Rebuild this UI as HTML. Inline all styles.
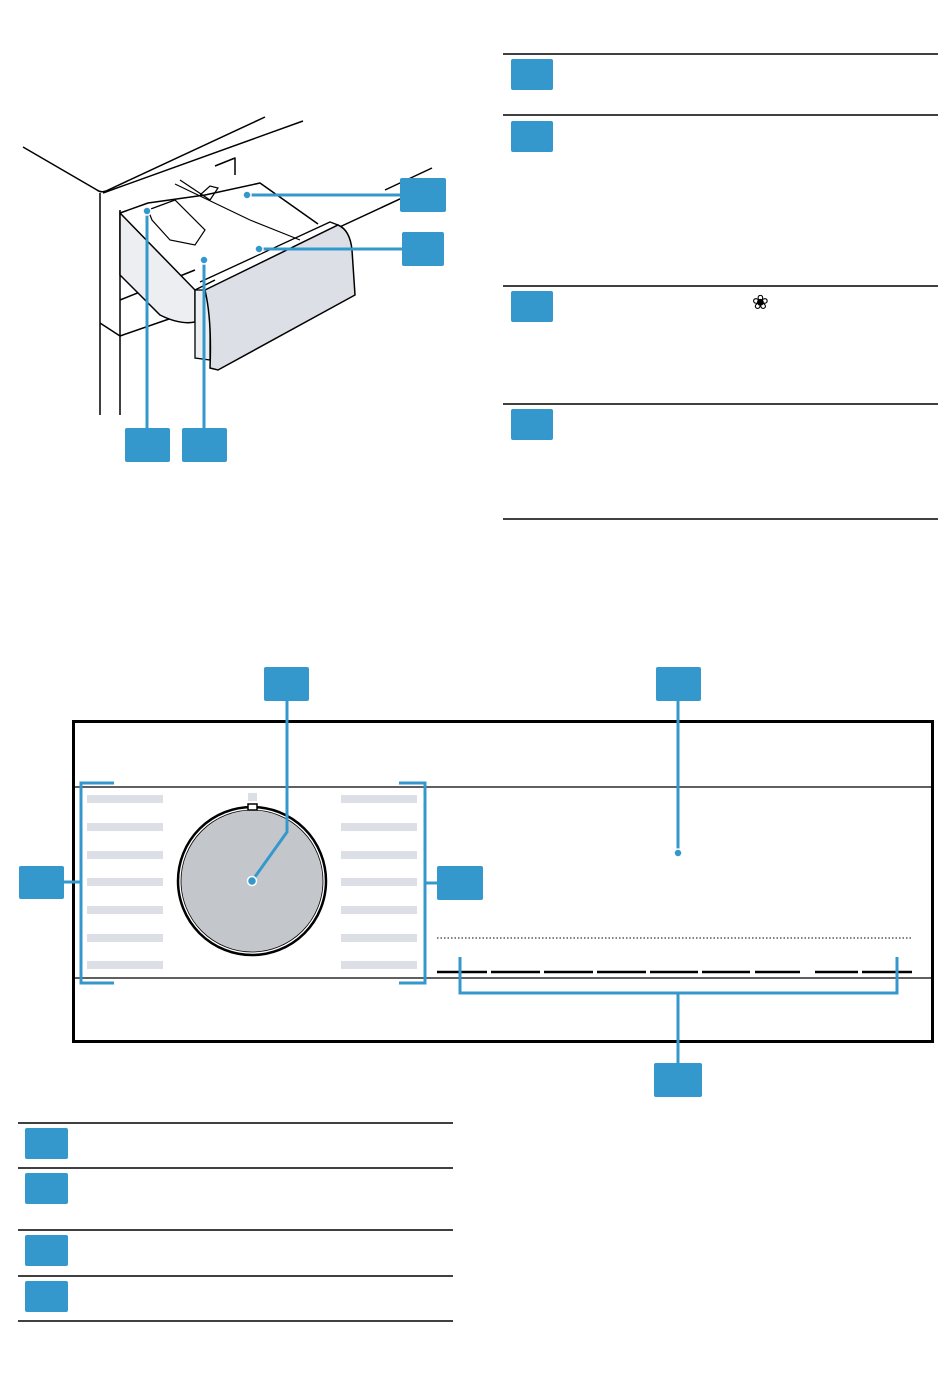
<!DOCTYPE html>
<html><head><style>body{margin:0;background:#fff}svg{display:block}</style></head><body>
<svg width="950" height="1392" viewBox="0 0 950 1392" xmlns="http://www.w3.org/2000/svg" font-family="Liberation Sans, sans-serif">
<g fill="#3598cc">
<rect x="511" y="59" width="42" height="31" rx="2"/>
<rect x="511" y="121" width="42" height="31" rx="2"/>
<rect x="511" y="291" width="42" height="31" rx="2"/>
<rect x="511" y="409" width="42" height="31" rx="2"/>
</g>
<g stroke="#000" stroke-width="1.5">
<line x1="503" y1="54" x2="938" y2="54"/><line x1="503" y1="115" x2="938" y2="115"/>
<line x1="503" y1="286" x2="938" y2="286"/><line x1="503" y1="404" x2="938" y2="404"/>
<line x1="503" y1="519" x2="938" y2="519"/>
<line x1="18" y1="1123" x2="453" y2="1123"/><line x1="18" y1="1168" x2="453" y2="1168"/>
<line x1="18" y1="1230" x2="453" y2="1230"/><line x1="18" y1="1276" x2="453" y2="1276"/>
<line x1="18" y1="1321" x2="453" y2="1321"/>
</g>
<text x="752" y="309" font-size="20">❀</text>
<g fill="#3598cc">
<rect x="25" y="1128" width="43" height="31" rx="2"/>
<rect x="25" y="1173" width="43" height="31" rx="2"/>
<rect x="25" y="1235" width="43" height="31" rx="2"/>
<rect x="25" y="1281" width="43" height="31" rx="2"/>
</g>
<!-- drawer illustration -->
<g stroke="#000" stroke-width="1.5" fill="none" stroke-linejoin="round">
<path d="M23 147 L97 190 Q101 193 106 191 L265 117"/>
<path d="M103 193 L303 121"/>
<line x1="100" y1="193" x2="100" y2="415"/>
<line x1="120" y1="210" x2="120" y2="415"/>
<path d="M100 323 L120 336 L195 310"/>
<line x1="120" y1="300" x2="195" y2="270"/>
<path d="M215 166 L235 158 L235 175"/>
<line x1="385" y1="190" x2="432" y2="168"/>
<line x1="318" y1="237" x2="430" y2="185"/>
<path d="M120 213 L148 203 L205 195 L260 183 L318 224"/>
<path d="M195 290 L215 280"/>
</g>
<path d="M120 213 L120 275 L160 315 Q180 325 195 322 L195 290 Z" fill="#eceef2" stroke="#000" stroke-width="1.5"/>
<path d="M148 210 L175 200 L205 230 L195 245 L170 240 L152 220 Z" fill="#fff" stroke="#000" stroke-width="1.2"/>
<path d="M175 184 L250 220 L300 240" fill="none" stroke="#000" stroke-width="1.2"/>
<path d="M180 180 L210 200 L218 188 L210 186 L200 195" fill="none" stroke="#000" stroke-width="1.2"/>
<path d="M195 290 L195 358 L210 360 L210 290 Z" fill="#eceef2" stroke="#000" stroke-width="1.3"/>
<path d="M205 290 L338 225 Q350 230 352 250 L355 295 L218 370 L210 368 Q212 320 205 290 Z" fill="#dcdfe5" stroke="#000" stroke-width="1.5"/>
<path d="M200 282 L330 222 L338 225" fill="none" stroke="#000" stroke-width="1.3"/>
<!-- callouts -->
<g stroke="#3598cc" stroke-width="3" fill="none">
<line x1="247" y1="195" x2="402" y2="195"/>
<line x1="259" y1="249" x2="404" y2="249"/>
<line x1="147" y1="211" x2="147" y2="430"/>
<line x1="204" y1="260" x2="204" y2="430"/>
</g>
<g fill="#3598cc" stroke="#fff" stroke-width="1.5">
<circle cx="247" cy="195" r="4"/><circle cx="259" cy="249" r="4"/><circle cx="147" cy="211" r="4"/><circle cx="204" cy="260" r="4"/>
</g>
<g fill="#3598cc">
<rect x="400" y="178" width="46" height="34" rx="2"/>
<rect x="402" y="232" width="42" height="34" rx="2"/>
<rect x="125" y="428" width="45" height="34" rx="2"/>
<rect x="182" y="428" width="45" height="34" rx="2"/>
</g>
<!-- panel -->
<rect x="73.5" y="721.5" width="859" height="320" fill="none" stroke="#000" stroke-width="3"/>
<line x1="73" y1="787" x2="933" y2="787" stroke="#000" stroke-width="1.2"/>
<line x1="73" y1="978" x2="933" y2="978" stroke="#000" stroke-width="1.2"/>
<line x1="437" y1="938" x2="912" y2="938" stroke="#000" stroke-width="1" stroke-dasharray="1.5 2"/>
<g stroke="#000" stroke-width="2.5">
<line x1="437" y1="972" x2="487" y2="972"/><line x1="491" y1="972" x2="540" y2="972"/>
<line x1="544" y1="972" x2="593" y2="972"/><line x1="597" y1="972" x2="646" y2="972"/>
<line x1="650" y1="972" x2="698" y2="972"/><line x1="702" y1="972" x2="750" y2="972"/>
<line x1="755" y1="972" x2="800" y2="972"/><line x1="815" y1="972" x2="858" y2="972"/>
<line x1="862" y1="972" x2="912" y2="972"/>
</g>
<g fill="#dcdfe6">
<rect x="87" y="795" width="76" height="8"/><rect x="87" y="823" width="76" height="8"/><rect x="87" y="851" width="76" height="8"/><rect x="87" y="878" width="76" height="8"/><rect x="87" y="906" width="76" height="8"/><rect x="87" y="934" width="76" height="8"/><rect x="87" y="961" width="76" height="8"/>
<rect x="341" y="795" width="76" height="8"/><rect x="341" y="823" width="76" height="8"/><rect x="341" y="851" width="76" height="8"/><rect x="341" y="878" width="76" height="8"/><rect x="341" y="906" width="76" height="8"/><rect x="341" y="934" width="76" height="8"/><rect x="341" y="961" width="76" height="8"/>
<rect x="248" y="793" width="9" height="8"/>
</g>
<circle cx="252" cy="881" r="74" fill="#fff" stroke="#000" stroke-width="2.5"/>
<circle cx="252" cy="881" r="71" fill="#c3c7cc" stroke="#000" stroke-width="0.8"/>
<rect x="248" y="804" width="9" height="6" fill="#fff" stroke="#000" stroke-width="1.5"/>
<g stroke="#3598cc" stroke-width="3" fill="none">
<path d="M114 783 L81 783 L81 983 L114 983"/><line x1="81" y1="882" x2="60" y2="882"/>
<path d="M399 783 L425 783 L425 983 L399 983"/><line x1="425" y1="883" x2="440" y2="883"/>
<path d="M460 957 L460 993 L897 993 L897 957"/><line x1="678" y1="993" x2="678" y2="1065"/>
<path d="M287 700 L287 832 L252 881"/>
<line x1="678" y1="700" x2="678" y2="853"/>
</g>
<circle cx="252" cy="881" r="4.5" fill="#3598cc" stroke="#fff" stroke-width="1.5"/>
<circle cx="678" cy="853" r="4" fill="#3598cc" stroke="#fff" stroke-width="1.5"/>
<g fill="#3598cc">
<rect x="264" y="667" width="45" height="34" rx="2"/>
<rect x="656" y="667" width="45" height="34" rx="2"/>
<rect x="19" y="866" width="45" height="33" rx="2"/>
<rect x="437" y="866" width="46" height="34" rx="2"/>
<rect x="654" y="1063" width="48" height="34" rx="2"/>
</g>
</svg>
</body></html>
